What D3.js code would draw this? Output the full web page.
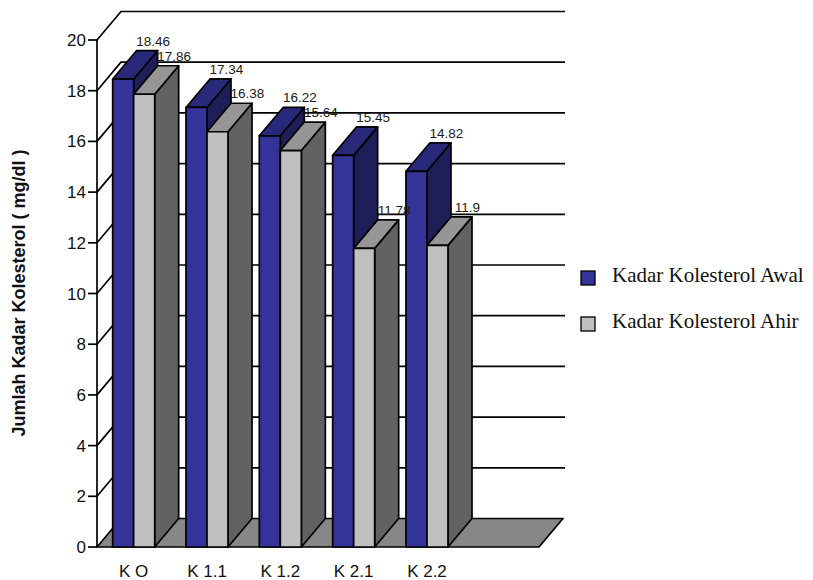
<!DOCTYPE html>
<html>
<head>
<meta charset="utf-8">
<script src="https://cdn.jsdelivr.net/npm/d3@7"></script>
<style>
  body { margin: 0; background: #fff; }
  svg { display: block; }
</style>
</head>
<body>
<script>
// data
const categories = ["K O", "K 1.1", "K 1.2", "K 2.1", "K 2.2"];
const seriesNames = ["Kadar Kolesterol Awal", "Kadar Kolesterol Ahir"];
const awal = [18.46, 17.34, 16.22, 15.45, 14.82];
const ahir = [17.86, 16.38, 15.64, 11.78, 11.9];
const yTitle = "Jumlah Kadar Kolesterol ( mg/dl )";

const width = 813, height = 580;
const depthX = 24, depthY = -28.5;   // oblique offset of the 3d box
const floorRight = 539;
const lw = 1.7;

const faces = [
  {front: "#333399", top: "#29297a", side: "#1e1e58"},
  {front: "#c0c0c0", top: "#969696", side: "#626262"}
];

const svg = d3.select("body").append("svg")
    .attr("width", width)
    .attr("height", height)
    .style("font-family", "Arial, 'Liberation Sans', sans-serif");

const y = d3.scaleLinear().domain([0, 20]).range([547, 40]);
const x = d3.scaleBand()
    .domain(categories)
    .range([97, 97 + 5 * 73.33])
    .paddingInner(0.427)
    .paddingOuter(0.2135);
const xs = d3.scaleBand().domain([0, 1]).range([0, x.bandwidth()]);

const ticks = y.ticks(10);
const stroke = "#000";
const x0 = x.range()[0];

// walls: diagonals on the side wall and lines on the back wall
svg.append("g")
    .attr("fill", "none")
    .attr("stroke", stroke)
    .attr("stroke-width", lw)
  .selectAll("path")
  .data(ticks.filter(d => d > 0))
  .join("path")
    .attr("d", d => `M${x0},${y(d)}l${depthX},${depthY}H${floorRight + depthX + 2}`);

// floor
svg.append("path")
    .attr("d", `M${x0},${y(0)}H${floorRight}l${depthX},${depthY}H${x0 + depthX}Z`)
    .attr("fill", "#878787")
    .attr("stroke", stroke)
    .attr("stroke-width", lw)
    .attr("stroke-linejoin", "round");

// y axis
const axis = svg.append("g");
axis.append("line")
    .attr("x1", x0).attr("x2", x0)
    .attr("y1", y(0)).attr("y2", y(20))
    .attr("stroke", stroke).attr("stroke-width", lw);
axis.selectAll("line.tick")
  .data(ticks)
  .join("line")
    .attr("class", "tick")
    .attr("x1", x0 - 9).attr("x2", x0)
    .attr("y1", d => y(d)).attr("y2", d => y(d))
    .attr("stroke", stroke).attr("stroke-width", lw);
axis.selectAll("text")
  .data(ticks)
  .join("text")
    .attr("x", x0 - 11)
    .attr("y", d => y(d) + 6)
    .attr("text-anchor", "end")
    .attr("font-size", 17)
    .attr("fill", "#111")
    .text(d => d);

// bars
const bars = [];
categories.forEach((c, i) => {
  [awal[i], ahir[i]].forEach((v, s) => bars.push({c, s, v}));
});

const bar = svg.append("g")
    .attr("stroke", stroke)
    .attr("stroke-width", lw)
    .attr("stroke-linejoin", "round")
  .selectAll("g")
  .data(bars)
  .join("g");

const bx = d => x(d.c) + xs(d.s);
const bw = xs.bandwidth();

bar.append("path")
    .attr("fill", d => faces[d.s].side)
    .attr("d", d => `M${bx(d) + bw},${y(d.v)}l${depthX},${depthY}V${y(0) + depthY}l${-depthX},${-depthY}Z`);
bar.append("path")
    .attr("fill", d => faces[d.s].top)
    .attr("d", d => `M${bx(d)},${y(d.v)}l${depthX},${depthY}h${bw}l${-depthX},${-depthY}Z`);
bar.append("rect")
    .attr("fill", d => faces[d.s].front)
    .attr("x", bx)
    .attr("y", d => y(d.v))
    .attr("width", bw)
    .attr("height", d => y(0) - y(d.v));

// value labels
svg.append("g")
  .selectAll("text")
  .data(bars)
  .join("text")
    .attr("x", d => bx(d) + depthX + bw / 2 + 6)
    .attr("y", d => y(d.v) + depthY - 5)
    .attr("text-anchor", "middle")
    .attr("font-size", 13.5)
    .attr("fill", "#1a1a1a")
    .text(d => d.v);

// category labels
svg.append("g")
  .selectAll("text")
  .data(categories)
  .join("text")
    .attr("x", d => x(d) + x.bandwidth() / 2)
    .attr("y", 576.5)
    .attr("text-anchor", "middle")
    .attr("font-size", 17)
    .attr("fill", "#111")
    .text(d => d);

// axis title
svg.append("text")
    .attr("transform", "translate(25,293) rotate(-90)")
    .attr("text-anchor", "middle")
    .attr("font-size", 18)
    .attr("font-weight", "bold")
    .attr("fill", "#111")
    .text(yTitle);

// legend
const legend = svg.append("g")
  .selectAll("g")
  .data(seriesNames)
  .join("g")
    .attr("transform", (d, i) => `translate(581,${271 + i * 46})`);
legend.append("rect")
    .attr("width", 14)
    .attr("height", 14)
    .attr("fill", (d, i) => faces[i].front)
    .attr("stroke", stroke)
    .attr("stroke-width", 1.3);
legend.append("text")
    .attr("x", 31)
    .attr("y", 11)
    .attr("font-family", "'Liberation Serif', 'DejaVu Serif', serif")
    .attr("font-size", 21)
    .attr("fill", "#111")
    .text(d => d);
</script>
</body>
</html>
